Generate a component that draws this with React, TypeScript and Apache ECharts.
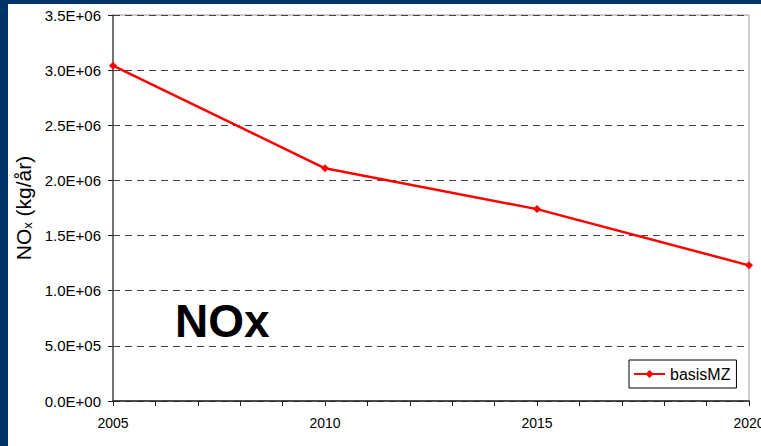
import React, { useEffect, useRef } from "react";
import * as echarts from "echarts";

const years = [2005, 2010, 2015, 2020];
const basisMZ = [3.04e6, 2.11e6, 1.74e6, 1.23e6];
const seriesName = "basisMZ";
const yTickMin = 0;
const yTickMax = 3.5e6;
const yTickStep = 5e5;
const xTickMin = 2005;
const xTickMax = 2020;
const xTickStep = 5;
const bigLabel = "NOx";

const FONT = "'Liberation Sans', Arial, sans-serif";

function sci(v: number): string {
  return v
    .toExponential(1)
    .replace("e", "E")
    .replace(/E([+-])(\d)$/, "E$10$2");
}

export default function App() {
  const ref = useRef<HTMLDivElement>(null);
  useEffect(() => {
    if (!ref.current) return;
    const chart = echarts.init(ref.current, undefined, { renderer: "svg" });
    chart.setOption({
      animation: false,
      backgroundColor: "transparent",
      textStyle: { fontFamily: FONT },
      grid: {
        left: 113,
        top: 15,
        right: 12,
        bottom: 45,
        containLabel: false,
        outerBoundsMode: "none",
        show: true,
        borderColor: "#999",
        borderWidth: 1,
        backgroundColor: "#fff",
      },
      legend: {
        left: 629,
        top: 360,
        orient: "vertical",
        backgroundColor: "#fff",
        borderColor: "#000",
        borderWidth: 1,
        borderRadius: 0,
        padding: [6, 6, 6, 4],
        itemWidth: 31,
        itemHeight: 10,
        itemGap: 4,
        textStyle: { fontSize: 16, color: "#000", fontFamily: FONT },
        data: [seriesName],
      },
      xAxis: {
        type: "value",
        min: xTickMin,
        max: xTickMax,
        interval: xTickStep,
        axisLine: { show: true, lineStyle: { color: "#222", width: 1.5 } },
        axisTick: { show: true, length: 5, lineStyle: { color: "#222" } },
        minorTick: { show: true, splitNumber: 5, length: 5, lineStyle: { color: "#222" } },
        splitLine: { show: false },
        minorSplitLine: { show: false },
        axisLabel: {
          margin: 15,
          fontSize: 14,
          color: "#000",
          fontFamily: FONT,
          showMaxLabel: true,
          showMinLabel: true,
          formatter: (v: number) => String(v),
        },
      },
      yAxis: {
        type: "value",
        min: yTickMin,
        max: yTickMax,
        interval: yTickStep,
        name: "{a|NO}{b|x}{a| (kg/år)}",
        nameLocation: "middle",
        nameRotate: 90,
        nameGap: 75,
        nameTextStyle: {
          rich: {
            a: { fontSize: 21, color: "#000", fontFamily: FONT },
            b: { fontSize: 13, color: "#000", fontFamily: FONT, padding: [8, 0, 0, 0] },
          },
        },
        axisLine: { show: true, lineStyle: { color: "#555", width: 1.5 } },
        axisTick: { show: true, length: 5, lineStyle: { color: "#222" } },
        splitLine: {
          show: true,
          lineStyle: { color: "#444", type: [7, 5], width: 1 },
        },
        axisLabel: {
          margin: 12,
          fontSize: 15,
          color: "#000",
          fontFamily: FONT,
          formatter: (v: number) => sci(v),
        },
      },
      graphic: [
        {
          type: "text",
          left: 175,
          top: 298,
          z: 100,
          style: {
            text: bigLabel,
            fill: "#000",
            font: `bold 46px ${FONT}`,
          },
        },
      ],
      series: [
        {
          name: seriesName,
          type: "line",
          data: years.map((y, i) => [y, basisMZ[i]]),
          symbol: "diamond",
          symbolSize: 8,
          showSymbol: true,
          clip: false,
          lineStyle: { color: "#ff0000", width: 2.5 },
          itemStyle: { color: "#ff0000" },
        },
      ],
    });
    return () => chart.dispose();
  }, []);
  return (
    <div
      style={{
        position: "fixed",
        left: 0,
        top: 0,
        width: 761,
        height: 446,
        background: "#003366",
        overflow: "hidden",
      }}
    >
      <div
        style={{
          position: "absolute",
          left: 8,
          top: 4,
          width: 753,
          height: 442,
          background: "#fff",
        }}
      />
      <div
        ref={ref}
        style={{ position: "absolute", left: 0, top: 0, width: 761, height: 446 }}
      />
    </div>
  );
}
